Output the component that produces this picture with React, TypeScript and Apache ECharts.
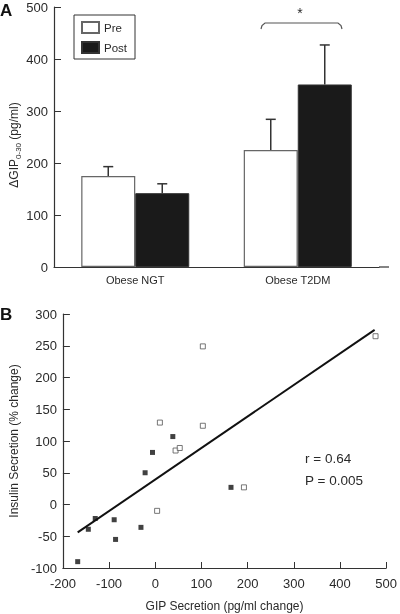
import React, { useEffect, useRef } from "react";
import * as echarts from "echarts";

const categories = ["Obese NGT", "Obese T2DM"];
const preMean = [175, 225];
const preSem = [18, 59];
const postMean = [142, 351];
const postSem = [18, 76];

const filledPoints: [number, number][] = [
  [-168, -90], [-145, -39], [-130, -22], [-89, -24], [-86, -55],
  [-31, -36], [-22, 50], [-6, 82], [38, 107], [164, 27],
];
const openPoints: [number, number][] = [
  [4, -10], [10, 129], [44, 85], [53, 89], [103, 249], [103, 124], [192, 27], [477, 265],
];
const fitLine: [number, number][] = [[-168, -44], [475, 275]];
const statsText = ["r = 0.64", "P = 0.005"];

const FONT = "'Liberation Sans', Arial, sans-serif";
const TXT = "#2a2a2a";
const AX = "#333";
const BAR_W = 54;

export default function App() {
  const ref = useRef<HTMLDivElement>(null);
  useEffect(() => {
    if (!ref.current) return;
    const chart = echarts.init(ref.current, null, { renderer: "svg" });
    const errSeries = (means: number[], sems: number[], offset: number) => ({
      type: "custom",
      xAxisIndex: 0,
      yAxisIndex: 0,
      silent: true,
      z: 5,
      data: means.map((m, i) => [i, m, m + sems[i]]),
      renderItem: (params: any, api: any) => {
        const c0 = api.coord([api.value(0), api.value(1)]);
        const c1 = api.coord([api.value(0), api.value(2)]);
        const x = c0[0] + offset;
        return {
          type: "group",
          children: [
            { type: "line", shape: { x1: x, y1: c0[1], x2: x, y2: c1[1] }, style: { stroke: "#333", lineWidth: 1.5 } },
            { type: "line", shape: { x1: x - 5, y1: c1[1], x2: x + 5, y2: c1[1] }, style: { stroke: "#333", lineWidth: 1.5 } },
          ],
        };
      },
    });
    chart.setOption({
      animation: false,
      textStyle: { fontFamily: FONT, color: TXT },
      grid: [
        { left: 54, right: 21, top: 7, height: 260 },
        { left: 53.5, right: 10.5, top: 314, height: 254 },
      ],
      legend: {
        data: ["Pre", "Post"],
        icon: "rect",
        orient: "vertical",
        left: 74,
        top: 15,
        itemWidth: 17,
        itemHeight: 11,
        itemGap: 7,
        padding: [6, 8, 5, 7],
        borderColor: "#333",
        borderWidth: 1,
        textStyle: { fontSize: 11.5, color: TXT, fontFamily: FONT },
      },
      xAxis: [
        {
          type: "category",
          gridIndex: 0,
          data: categories,
          axisLine: { show: true, onZero: false, lineStyle: { color: AX, width: 1.2 } },
          axisTick: { show: false },
          axisLabel: { fontSize: 11, color: TXT, margin: 7 },
        },
        {
          type: "value",
          gridIndex: 1,
          min: -200,
          max: 500,
          interval: 100,
          splitLine: { show: false },
          axisLine: { show: true, onZero: false, lineStyle: { color: AX, width: 1.2 } },
          axisTick: { inside: true, length: 6, lineStyle: { color: AX } },
          axisLabel: { fontSize: 13, color: TXT, margin: 9 },
          name: "GIP Secretion (pg/ml change)",
          nameLocation: "middle",
          nameGap: 32,
          nameTextStyle: { fontSize: 12, color: TXT },
        },
      ],
      yAxis: [
        {
          type: "value",
          gridIndex: 0,
          min: 0,
          max: 500,
          interval: 100,
          splitLine: { show: false },
          axisLine: { show: true, onZero: false, lineStyle: { color: AX, width: 1.2 } },
          axisTick: { show: true, inside: true, length: 7, lineStyle: { color: AX } },
          axisLabel: { fontSize: 13, color: TXT, margin: 6 },
        },
        {
          type: "value",
          gridIndex: 1,
          min: -100,
          max: 300,
          interval: 50,
          splitLine: { show: false },
          axisLine: { show: true, onZero: false, lineStyle: { color: AX, width: 1.2 } },
          axisTick: { show: true, inside: true, length: 7, lineStyle: { color: AX } },
          axisLabel: { fontSize: 13, color: TXT, margin: 6 },
          name: "Insulin Secretion (% change)",
          nameLocation: "middle",
          nameGap: 39,
          nameTextStyle: { fontSize: 12, color: TXT },
        },
      ],
      series: [
        {
          name: "Pre",
          type: "bar",
          xAxisIndex: 0,
          yAxisIndex: 0,
          barWidth: BAR_W,
          barGap: "0%",
          data: preMean,
          itemStyle: { color: "#fff", borderColor: "#666", borderWidth: 1.2 },
        },
        {
          name: "Post",
          type: "bar",
          xAxisIndex: 0,
          yAxisIndex: 0,
          barWidth: BAR_W,
          barGap: "0%",
          data: postMean,
          itemStyle: { color: "#1a1a1a", borderColor: "#333", borderWidth: 1 },
        },
        errSeries(preMean, preSem, -BAR_W / 2),
        errSeries(postMean, postSem, BAR_W / 2),
        {
          name: "fit",
          type: "line",
          xAxisIndex: 1,
          yAxisIndex: 1,
          data: fitLine,
          symbol: "none",
          lineStyle: { color: "#111", width: 2 },
          z: 3,
        },
        {
          name: "filled",
          type: "scatter",
          xAxisIndex: 1,
          yAxisIndex: 1,
          data: filledPoints,
          symbol: "rect",
          symbolSize: 5,
          itemStyle: { color: "#111" },
          z: 4,
        },
        {
          name: "open",
          type: "scatter",
          xAxisIndex: 1,
          yAxisIndex: 1,
          data: openPoints,
          symbol: "rect",
          symbolSize: 5,
          itemStyle: { color: "#fff", borderColor: "#555", borderWidth: 1 },
          z: 4,
        },
      ],
      graphic: [
        { type: "text", left: 0, top: 2, style: { text: "A", font: `bold 17px ${FONT}`, fill: "#111" } },
        { type: "text", left: 0, top: 306, style: { text: "B", font: `bold 17px ${FONT}`, fill: "#111" } },
        {
          type: "text",
          x: 14,
          y: 145,
          rotation: Math.PI / 2,
          style: {
            text: "{m|ΔGIP}{s|0-30}{m| (pg/ml)}",
            align: "center",
            verticalAlign: "middle",
            rich: {
              m: { fontSize: 12, lineHeight: 16, fill: TXT, fontFamily: FONT },
              s: { fontSize: 8, lineHeight: 8, verticalAlign: "bottom", fill: TXT, fontFamily: FONT },
            },
          },
        },
        { type: "line", shape: { x1: 379, y1: 267, x2: 389, y2: 267 }, style: { stroke: AX, lineWidth: 1.2 } },
        {
          type: "polyline",
          shape: { points: [[261, 29], [262, 25.5], [265, 23], [338, 23], [341, 25.5], [342, 29]] },
          style: { stroke: "#555", lineWidth: 1.2, fill: "none" },
        },
        { type: "text", x: 300, y: 13, style: { text: "*", font: `14px ${FONT}`, fill: TXT, align: "center", verticalAlign: "middle" } },
        { type: "text", x: 305, y: 458, style: { text: statsText[0], font: `13.5px ${FONT}`, fill: TXT, verticalAlign: "middle" } },
        { type: "text", x: 305, y: 480, style: { text: statsText[1], font: `13.5px ${FONT}`, fill: TXT, verticalAlign: "middle" } },
      ],
    });
    return () => chart.dispose();
  }, []);
  return <div ref={ref} style={{ position: "fixed", left: 0, top: 0, width: 400, height: 614 }} />;
}
